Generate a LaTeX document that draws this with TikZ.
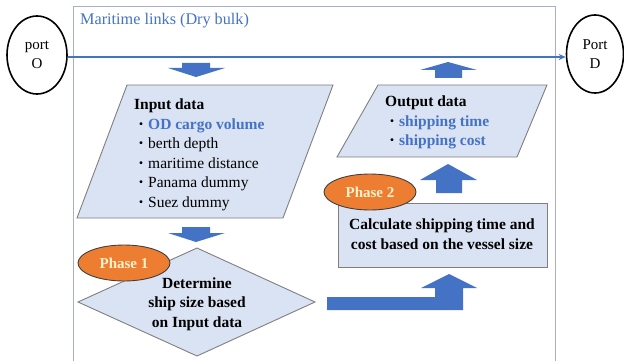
\documentclass[tikz,border=0pt]{standalone}
\usepackage{fontspec}
\setmainfont{Liberation Serif}
\newfontfamily\cjk{Noto Sans CJK JP}
\usetikzlibrary{shapes.geometric,arrows.meta}
\definecolor{boxfill}{HTML}{DAE3F3}
\definecolor{boxline}{HTML}{7F7F7F}
\definecolor{arrowblue}{HTML}{4472C4}
\definecolor{txtblue}{HTML}{4472C4}
\definecolor{phaseorange}{HTML}{ED7D31}
\definecolor{phasetext}{HTML}{FFF2CC}
\definecolor{framecol}{HTML}{A9AECB}
\newcommand{\bul}{{\cjk\fontsize{14}{19.5}\selectfont ・}}
\tikzset{
  shapebox/.style={draw=boxline, fill=boxfill, line width=0.9pt},
  blockarrow/.style={fill=arrowblue, draw=none},
  port/.style={ellipse, draw=black, line width=1.6pt, fill=white, minimum width=60pt, minimum height=78pt, inner sep=0pt, align=center, font=\fontsize{15}{19}\selectfont},
  phase/.style={ellipse, draw=black!75, line width=0.9pt, fill=phaseorange, minimum width=92pt, minimum height=36pt, inner sep=0pt, text=phasetext, font=\bfseries\fontsize{15}{18}\selectfont},
  body/.style={inner sep=0pt, align=left, font=\fontsize{15.5}{19.5}\selectfont},
}
\begin{document}
\begin{tikzpicture}[x=1pt,y=-1pt]
\useasboundingbox (0,0) rectangle (624,361);
% frame
\draw[framecol, line width=1pt] (73,361) -- (73,7) -- (555,7) -- (555,361);
\node[anchor=west, text=txtblue, inner sep=0pt, font=\fontsize{16.2}{19}\selectfont] (title) at (80,21) {Maritime links (Dry bulk)};
% ports
\node[port] (portO) at (37,55) {port\\O};
\node[port, minimum width=57pt] (portD) at (595,54) {Port\\D};
\draw[arrowblue, line width=1.4pt, -{Stealth[length=7pt,width=6pt]}] (portO.east |- 0,57) -- (portD.west |- 0,57);
% arrow 1 (down)
\fill[blockarrow] (182,63) -- (210,63) -- (210,68) -- (225,68) -- (196,77) -- (168,68) -- (182,68) -- cycle;
% input parallelogram
\filldraw[shapebox] (127,85) -- (333,85) -- (283,218) -- (77,218) -- cycle;
\node[body, anchor=north west] (input) at (134,99) {\textbf{Input data}\\
\bul\textcolor{txtblue}{\textbf{OD cargo volume}}\\
\bul berth depth\\
\bul maritime distance\\
\bul Panama dummy\\
\bul Suez dummy};
% arrow 2 (down)
\fill[blockarrow] (182,227) -- (210,227) -- (210,233) -- (225,233) -- (196,242) -- (168,233) -- (182,233) -- cycle;
% diamond
\filldraw[shapebox] (197,248) -- (315,302) -- (197,356) -- (78,302) -- cycle;
\node[body, align=center, font=\bfseries\fontsize{15.5}{19.5}\selectfont] (decide) at (197,304) {Determine\\ship size based\\on Input data};
\node[phase] (ph1) at (124,263) {Phase 1};
% bent arrow
\fill[blockarrow] (327,297) -- (435,297) -- (435,288) -- (421,288) -- (449,274) -- (477,288) -- (463,288) -- (463,310) -- (327,310) -- cycle;
% phase 2 box
\filldraw[shapebox] (338,203) rectangle (547,267);
\node[body, align=center, font=\bfseries\fontsize{15.5}{19.5}\selectfont] (calc) at (442,234) {Calculate shipping time and\\cost based on the vessel size};
\node[phase] (ph2) at (370,192) {Phase 2};
% arrow 3 (up)
\fill[blockarrow] (436,193) -- (436,180) -- (420,180) -- (448,164) -- (477,180) -- (462,180) -- (462,193) -- cycle;
% output parallelogram
\filldraw[shapebox] (378,85) -- (547,85) -- (517,157) -- (337,157) -- cycle;
\node[body, anchor=north west] (output) at (385,96) {\textbf{Output data}\\
\bul\textcolor{txtblue}{\textbf{shipping time}}\\
\bul\textcolor{txtblue}{\textbf{shipping cost}}};
% arrow 4 (up)
\fill[blockarrow] (435,78) -- (435,70) -- (420,70) -- (448,62) -- (477,70) -- (462,70) -- (462,78) -- cycle;
\end{tikzpicture}
\end{document}
